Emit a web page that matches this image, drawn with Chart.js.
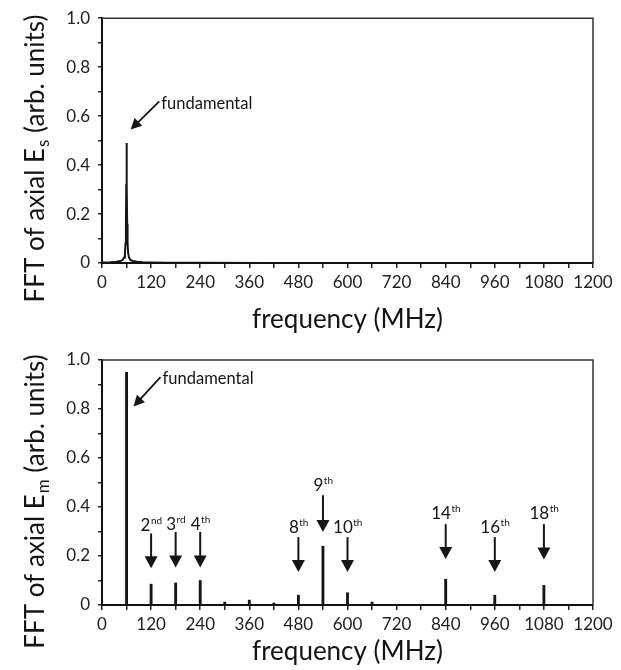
<!DOCTYPE html>
<html><head><meta charset="utf-8">
<script src="https://cdn.jsdelivr.net/npm/chart.js@4.4.1/dist/chart.umd.min.js"></script>
<style>
html,body{margin:0;padding:0;background:#fff;}
#wrap{position:relative;width:621px;height:670px;overflow:hidden;}
canvas{position:absolute;left:0;}
#c1{top:0;z-index:2;}
#c2{top:335px;z-index:1;}
</style></head><body>
<div id="wrap">
<canvas id="c1" width="621" height="335"></canvas>
<canvas id="c2" width="621" height="335"></canvas>
</div>
<script>
// ---------- data ----------
const xTickValues = [0,60,120,180,240,300,360,420,480,540,600,660,720,780,840,900,960,1020,1080,1140,1200];
const xTickLabels = ['0','','120','','240','','360','','480','','600','','720','','840','','960','','1080','','1200'];
const yTickValues = [0,0.1,0.2,0.3,0.4,0.5,0.6,0.7,0.8,0.9,1.0];
const yTickLabels = ['0','','0.2','','0.4','','0.6','','0.8','','1.0'];

// top panel: FFT of axial Es (sharp peak at fundamental)
const topFreq = [0, 20, 35, 45, 50, 54, 56, 57.5, 58.5, 59.3, 60, 60.7, 61.5, 62.5, 64, 66, 70, 76, 85, 100, 120, 160, 240, 400, 700, 1200];
const topAmp  = [0.002, 0.003, 0.005, 0.008, 0.012, 0.022, 0.04, 0.08, 0.16, 0.32, 0.49, 0.32, 0.16, 0.08, 0.04, 0.022, 0.012, 0.008, 0.005, 0.003, 0.002, 0.001, 0.001, 0, 0, 0];

// bottom panel: FFT of axial Em (harmonic lines)
const harmFreq = [60, 120, 180, 240, 300, 360, 420, 480, 540, 600, 660, 840, 960, 1080];
const harmAmp  = [0.95, 0.085, 0.09, 0.10, 0.012, 0.02, 0.008, 0.04, 0.24, 0.05, 0.012, 0.105, 0.04, 0.08];

// harmonic annotation labels
const annLabels = ['2','3','4','8','9','10','14','16','18'];
const annSup    = ['nd','rd','th','th','th','th','th','th','th'];
const annFreq   = [120, 180, 240, 480, 540, 600, 840, 960, 1080];

// ---------- styling / layout ----------
const FONT = 'Lato, "Open Sans", "DejaVu Sans", sans-serif';
const INK = '#151515';
// annotation placement (data units): label y, arrow top y, arrow tip y
const annPlace = [
  [0.325, 0.292, 0.150],
  [0.330, 0.298, 0.153],
  [0.330, 0.298, 0.153],
  [0.318, 0.277, 0.135],
  [0.490, 0.448, 0.298],
  [0.318, 0.277, 0.135],
  [0.376, 0.330, 0.188],
  [0.318, 0.277, 0.135],
  [0.376, 0.330, 0.186]
];

function drawArrowHead(ctx, x1, y1, x2, y2, len, half) {
  const a = Math.atan2(y2 - y1, x2 - x1);
  ctx.beginPath();
  ctx.moveTo(x2, y2);
  ctx.lineTo(x2 - len*Math.cos(a) + half*Math.sin(a), y2 - len*Math.sin(a) - half*Math.cos(a));
  ctx.lineTo(x2 - len*Math.cos(a) - half*Math.sin(a), y2 - len*Math.sin(a) + half*Math.cos(a));
  ctx.closePath();
  ctx.fill();
}
function arrow(ctx, x1, y1, x2, y2, len, half, lw) {
  const a = Math.atan2(y2 - y1, x2 - x1);
  ctx.lineWidth = lw;
  ctx.beginPath();
  ctx.moveTo(x1, y1);
  ctx.lineTo(x2 - (len-1)*Math.cos(a), y2 - (len-1)*Math.sin(a));
  ctx.stroke();
  drawArrowHead(ctx, x1, y1, x2, y2, len, half);
}

// y-axis title with subscript, drawn rotated
function yTitlePlugin(sub, centerY) {
  return {
    id: 'ytitle',
    afterDraw(chart) {
      const ctx = chart.ctx;
      const main = 'FFT of axial E';
      const rest = ' (arb. units)';
      ctx.save();
      ctx.fillStyle = INK;
      ctx.textBaseline = 'alphabetic';
      ctx.textAlign = 'left';
      const big = '26px ' + FONT, small = '17px ' + FONT;
      ctx.font = big; const w1 = ctx.measureText(main).width; const w3 = ctx.measureText(rest).width;
      ctx.font = small; const w2 = ctx.measureText(sub).width;
      const total = w1 + w2 + w3;
      ctx.translate(44, centerY);
      ctx.rotate(-Math.PI/2);
      let x = -total/2;
      ctx.font = big; ctx.fillText(main, x, 0); x += w1;
      ctx.font = small; ctx.fillText(sub, x + 1, 5); x += w2 + 1;
      ctx.font = big; ctx.fillText(rest, x, 0);
      ctx.restore();
    }
  };
}

const framePlugin = {
  id: 'frame',
  beforeDatasetsDraw(chart) {
    const {ctx, chartArea: c} = chart;
    ctx.save();
    ctx.strokeStyle = '#333';
    ctx.lineWidth = 1.5;
    ctx.beginPath();
    ctx.moveTo(c.left, c.top); ctx.lineTo(c.right, c.top); ctx.lineTo(c.right, c.bottom);
    ctx.stroke();
    ctx.restore();
  }
};

function fundamentalPlugin(fx1, fy1, fx2, fy2) {
  return {
    id: 'fund',
    afterDraw(chart) {
      const {ctx, scales: {x, y}} = chart;
      const x1 = x.getPixelForValue(fx1), y1 = y.getPixelForValue(fy1);
      const x2 = x.getPixelForValue(fx2), y2 = y.getPixelForValue(fy2);
      ctx.save();
      ctx.strokeStyle = INK; ctx.fillStyle = INK;
      arrow(ctx, x1, y1, x2, y2, 11, 5.5, 1.8);
      ctx.font = '16.5px ' + FONT;
      ctx.textAlign = 'left'; ctx.textBaseline = 'middle';
      ctx.fillText('fundamental', x1 + 2, y1 + 2);
      ctx.restore();
    }
  };
}

const harmonicPlugin = {
  id: 'harm',
  afterDraw(chart) {
    const {ctx, scales: {x, y}} = chart;
    ctx.save();
    ctx.strokeStyle = INK; ctx.fillStyle = INK;
    annFreq.forEach((f, i) => {
      const px = x.getPixelForValue(f);
      const [ly, ty, tipy] = annPlace[i];
      const yTop = y.getPixelForValue(ty), yTip = y.getPixelForValue(tipy), yL = y.getPixelForValue(ly);
      arrow(ctx, px, yTop, px, yTip, 12, 6.5, 2);
      ctx.textBaseline = 'alphabetic'; ctx.textAlign = 'left';
      ctx.font = '17px ' + FONT; const wm = ctx.measureText(annLabels[i]).width;
      ctx.font = '10px ' + FONT; const ws = ctx.measureText(annSup[i]).width;
      let sx = px - (wm + ws)/2;
      ctx.font = '17px ' + FONT; ctx.fillText(annLabels[i], sx, yL + 6);
      ctx.font = '10px ' + FONT; ctx.fillText(annSup[i], sx + wm + 0.5, yL - 1);
    });
    ctx.restore();
  }
};

function baseOptions(topPad, axisH, titlePad) {
  return {
    responsive: false, animation: false, devicePixelRatio: 1,
    layout: { padding: { top: topPad, right: 28, left: 0, bottom: 0 } },
    plugins: { legend: { display: false }, tooltip: { enabled: false } },
    scales: {
      x: {
        type: 'linear', min: 0, max: 1200, offset: false,
        afterFit(s) { s.height = axisH; },
        afterBuildTicks(s) { s.ticks = xTickValues.map(v => ({ value: v })); },
        ticks: {
          autoSkip: false, maxRotation: 0, minRotation: 0, padding: 4,
          color: '#222', font: { family: FONT, size: 17 },
          callback: (v) => { const i = xTickValues.indexOf(v); return i >= 0 ? xTickLabels[i] : ''; }
        },
        grid: { drawOnChartArea: false, drawTicks: true, tickLength: 5, color: '#222', lineWidth: 1.5, offset: false },
        border: { display: true, color: '#111', width: 2 },
        title: { display: true, text: 'frequency (MHz)', color: INK, font: { family: FONT, size: 26 }, padding: { top: 0, bottom: titlePad } }
      },
      y: {
        min: 0, max: 1,
        afterFit(s) { s.width = 102; },
        afterBuildTicks(s) { s.ticks = yTickValues.map(v => ({ value: v })); },
        ticks: {
          autoSkip: false, padding: 8, color: '#222', font: { family: FONT, size: 17 },
          callback: (v) => { const i = yTickValues.findIndex(t => Math.abs(t - v) < 1e-6); return i >= 0 ? yTickLabels[i] : ''; }
        },
        grid: { drawOnChartArea: false, drawTicks: true, tickLength: 4, color: '#222', lineWidth: 1.5 },
        border: { display: true, color: '#111', width: 2 }
      }
    }
  };
}

// top chart
new Chart(document.getElementById('c1'), {
  type: 'line',
  data: {
    datasets: [{
      data: topFreq.map((f, i) => ({ x: f, y: topAmp[i] })),
      borderColor: INK, borderWidth: 2, pointRadius: 0, tension: 0, fill: false
    }]
  },
  options: baseOptions(16, 72, 0),
  plugins: [framePlugin, yTitlePlugin('s', 159), fundamentalPlugin(140, 0.66, 70, 0.545)]
});

// bottom chart
new Chart(document.getElementById('c2'), {
  type: 'bar',
  data: {
    datasets: [{
      data: harmFreq.map((f, i) => ({ x: f, y: harmAmp[i] })),
      backgroundColor: INK, borderWidth: 0, barThickness: 2.2, grouped: false
    }]
  },
  options: baseOptions(25, 65, 3),
  plugins: [framePlugin, yTitlePlugin('m', 167), fundamentalPlugin(143, 0.93, 77, 0.81), harmonicPlugin]
});
</script>
</body></html>
